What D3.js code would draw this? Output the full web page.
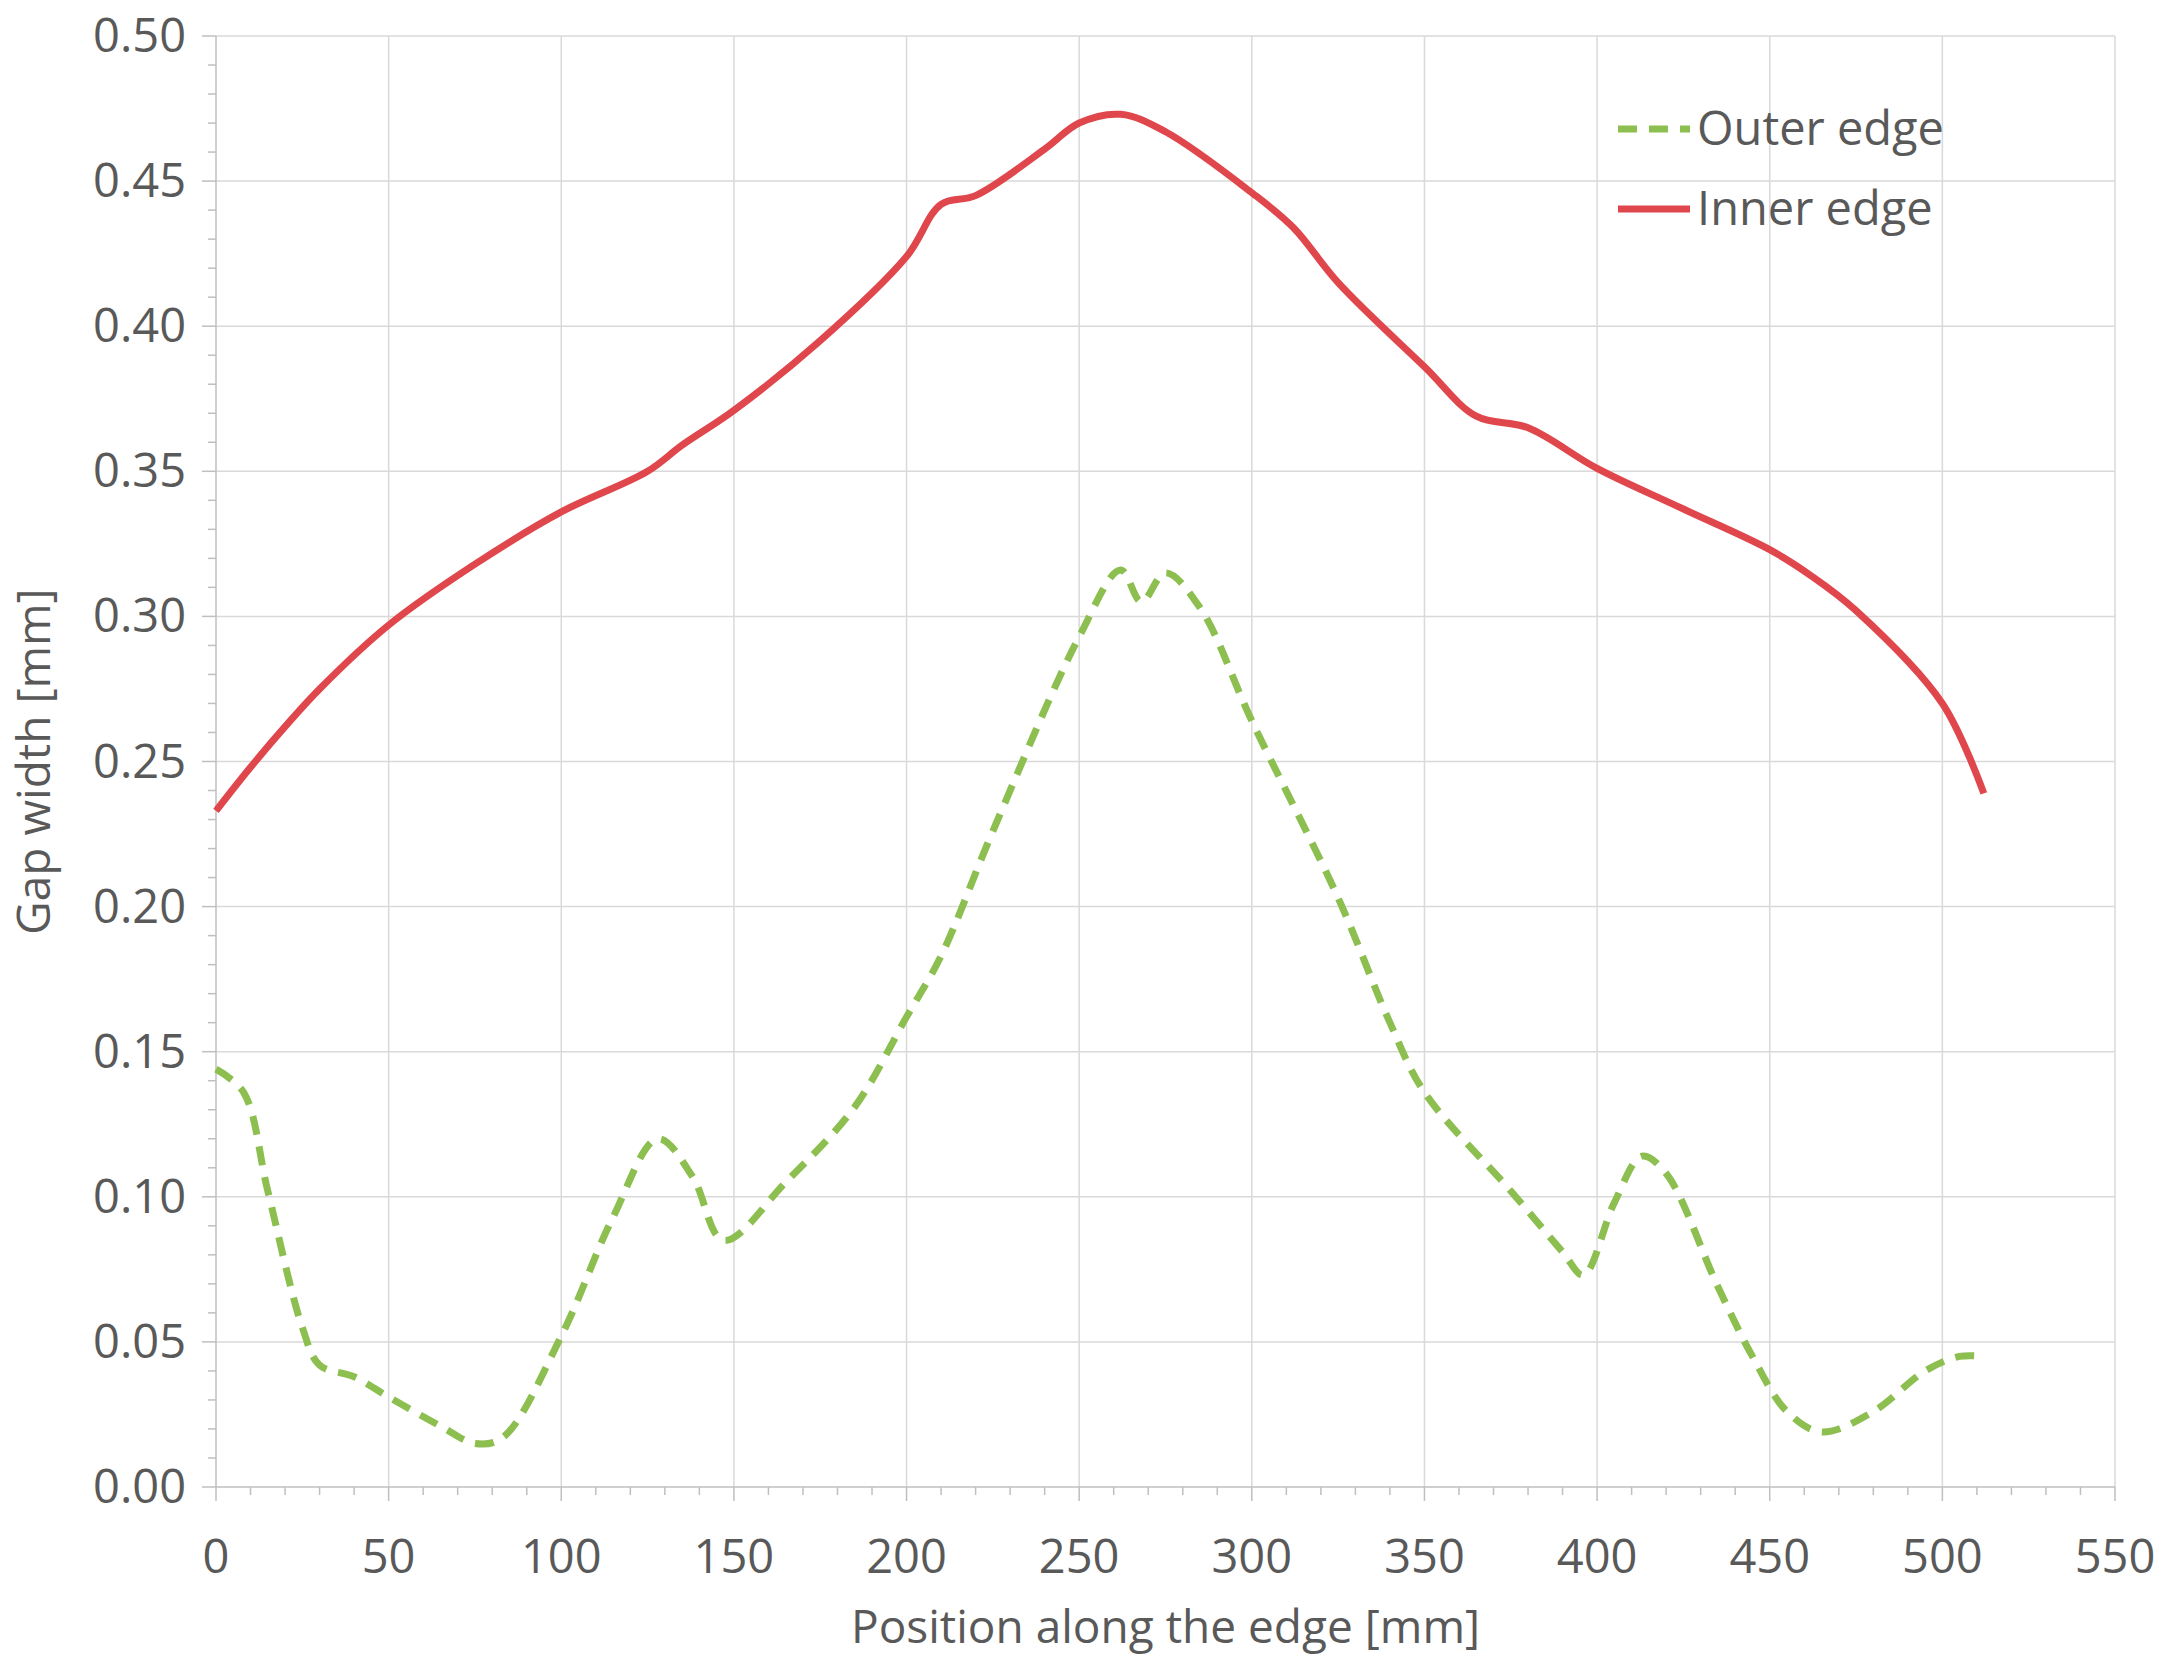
<!DOCTYPE html>
<html><head><meta charset="utf-8">
<script src="https://cdn.jsdelivr.net/npm/d3@7"></script>
<style>body{margin:0;background:#fff}text{font-family:"Open Sans",sans-serif;fill:#595959}</style>
</head><body><svg width="2169" height="1670"></svg>
<script>
var innerX = [0,10,20,30,50,75,100,125,135,150,175,200,210,220,240,250,262,275,300,312,325,350,365,380,400,425,450,462,475,500,512];
var innerY = [0.233,0.248,0.262,0.275,0.297,0.318,0.336,0.350,0.359,0.371,0.395,0.424,0.442,0.445,0.461,0.470,0.473,0.467,0.446,0.434,0.415,0.386,0.369,0.365,0.351,0.337,0.323,0.314,0.302,0.270,0.239];
var outerX = [0,8,15,25,30,40,50,65,75,83,100,115,128,138,147,165,185,200,210,225,250,262,268,275,285,300,325,340,350,375,390,396,405,413,420,435,445,455,465,480,495,505,512];
var outerY = [0.144,0.136,0.102,0.055,0.042,0.038,0.031,0.021,0.015,0.017,0.052,0.093,0.120,0.107,0.085,0.105,0.131,0.162,0.183,0.226,0.293,0.316,0.305,0.315,0.303,0.264,0.203,0.160,0.136,0.102,0.081,0.073,0.098,0.114,0.108,0.069,0.045,0.026,0.019,0.026,0.040,0.045,0.045];

var svg = d3.select("svg");
var L = 216, R = 2115, T = 36, B = 1487;
var x = d3.scaleLinear().domain([0,550]).range([L,R]);
var y = d3.scaleLinear().domain([0,0.5]).range([B,T]);

// grid
svg.append("g").selectAll("line").data(d3.range(50,551,50)).enter().append("line")
  .attr("x1",x).attr("x2",x).attr("y1",T).attr("y2",B).attr("stroke","#d9d9d9").attr("stroke-width",1.5);
svg.append("g").selectAll("line").data(d3.range(0.05,0.501,0.05)).enter().append("line")
  .attr("y1",y).attr("y2",y).attr("x1",L).attr("x2",R).attr("stroke","#d9d9d9").attr("stroke-width",1.5);

// minor ticks
svg.append("g").selectAll("line").data(d3.range(0,551,10)).enter().append("line")
  .attr("x1",x).attr("x2",x).attr("y1",B).attr("y2",function(d){return B+(d%50===0?14:8);}).attr("stroke","#bfbfbf").attr("stroke-width",1.5);
svg.append("g").selectAll("line").data(d3.range(0,51,1)).enter().append("line")
  .attr("y1",function(d){return y(d/100);}).attr("y2",function(d){return y(d/100);})
  .attr("x1",function(d){return L-(d%5===0?14:8);}).attr("x2",L).attr("stroke","#bfbfbf").attr("stroke-width",1.5);
svg.append("line").attr("x1",L).attr("x2",R).attr("y1",B).attr("y2",B).attr("stroke","#bfbfbf").attr("stroke-width",1.5);
svg.append("line").attr("x1",L).attr("x2",L).attr("y1",T).attr("y2",B).attr("stroke","#bfbfbf").attr("stroke-width",1.5);

// tick labels
svg.append("g").selectAll("text").data(d3.range(0,551,50)).enter().append("text")
  .attr("x",x).attr("y",B+86).attr("text-anchor","middle").attr("font-size",47).text(function(d){return d;});
svg.append("g").selectAll("text").data(d3.range(0,0.501,0.05)).enter().append("text")
  .attr("x",L-30).attr("y",function(d){return y(d)+16;}).attr("text-anchor","end").attr("font-size",47).text(function(d){return d.toFixed(2);});

svg.append("text").attr("x",(L+R)/2).attr("y",1643).attr("text-anchor","middle").attr("font-size",46).text("Position along the edge [mm]");
svg.append("text").attr("transform","translate(50,"+((T+B)/2)+") rotate(-90)").attr("text-anchor","middle").attr("font-size",46).text("Gap width [mm]");

var line = d3.line().curve(d3.curveCatmullRom.alpha(0.5)).x(function(d){return x(d[0]);}).y(function(d){return y(d[1]);});
var green = "#8cbf4f", red = "#e0474c";
svg.append("path").datum(d3.zip(outerX,outerY)).attr("d",line).attr("fill","none")
  .attr("stroke",green).attr("stroke-width",7).attr("stroke-dasharray","19,12");
svg.append("path").datum(d3.zip(innerX,innerY)).attr("d",line).attr("fill","none")
  .attr("stroke",red).attr("stroke-width",7);

// legend
var leg = [["Outer edge",green,"19,12",129],["Inner edge",red,null,209]];
leg.forEach(function(l){
  svg.append("line").attr("x1",1618).attr("x2",1690).attr("y1",l[3]).attr("y2",l[3]).attr("stroke",l[1]).attr("stroke-width",7).attr("stroke-dasharray",l[2]);
  svg.append("text").attr("x",1697).attr("y",l[3]+16).attr("font-size",47).text(l[0]);
});
</script></body></html>
